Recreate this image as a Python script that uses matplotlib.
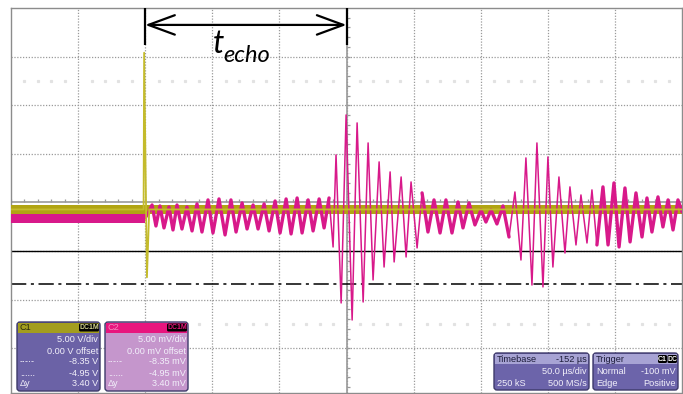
import matplotlib.pyplot as plt
import numpy as np
from matplotlib.patches import FancyBboxPatch, Rectangle

# Screen settings: 50 us/div, 10 divisions; both channels 5 units/div (V and mV)
t_min, t_max = -100, 400
y_min, y_max = -19.6, 20.0

# C1 (V): baseline band plus the transmit spike at the trigger
ch1_level = -0.72
ch1_band = 0.42
ch1_t = [-100, -1.2, -0.8, 1.3, 3.0, 400]
ch1_v = [-0.72, -0.72, 15.4, -7.7, -0.72, -0.72]

# C2 (mV): noise band before the trigger
ch2_pre_t = [-100, 0]
ch2_pre_hi = [-1.15, -1.15]
ch2_pre_lo = [-2.11, -2.11]

ch2_t = [0.0, 2.8, 5.1, 8.0, 11.0, 14.0, 17.7, 20.7, 23.7, 27.4,
         31.1, 34.9, 38.6, 42.3, 46.8, 50.5, 55.0, 59.5, 63.9, 67.7,
         72.2, 75.9, 80.4, 84.1, 88.6, 92.3, 96.8, 100.5, 105.0, 108.7,
         113.2, 116.9, 121.4, 125.1, 129.6, 133.3, 137.0, 140.0, 142.2, 146.0,
         149.7, 154.2, 157.9, 162.4, 166.1, 169.8, 174.3, 178.0, 182.5, 185.5,
         190.7, 194.4, 198.1, 202.6, 206.3, 210.7, 215.2, 219.7, 224.1, 228.6,
         233.1, 236.8, 241.3, 245.7, 250.2, 253.9, 257.7, 262.1, 266.6, 271.1,
         275.5, 280.0, 283.7, 288.2, 291.9, 296.4, 300.1, 303.8, 308.3, 312.8,
         316.5, 321.0, 324.7, 329.2, 332.9, 336.6, 341.1, 344.9, 349.3, 353.1,
         357.5, 361.3, 365.7, 370.2, 373.9, 377.6, 382.1, 385.8, 389.6, 393.3,
         397.0, 400.0]
ch2_mv = [-1.59, -0.98, -0.26, -2.42, -0.36, -2.62, -0.46, -2.83, -0.26, -2.73,
          -0.46, -2.93, -0.15, -3.04, 0.26, -3.14, 0.36, -3.34, 0.26, -3.04,
          -0.05, -2.73, -0.26, -2.73, -0.15, -2.93, 0.15, -3.14, 0.36, -3.24,
          0.46, -3.14, 0.26, -2.93, 0.36, -2.62, 0.46, -4.58, 4.89, -10.34,
          9.00, -12.09, 8.18, -10.24, 6.12, -7.97, 4.17, -6.64, 3.14, -6.12,
          2.62, -5.61, 2.11, -4.68, 0.98, -3.04, 0.26, -3.14, 0.26, -3.14,
          0.05, -2.62, -0.05, -2.31, -0.77, -2.01, -0.77, -2.21, -0.36, -3.55,
          1.08, -5.92, 4.58, -8.49, 6.12, -8.69, 4.68, -6.64, 2.62, -5.20,
          1.60, -4.37, 0.77, -4.17, 1.29, -4.37, 1.60, -4.37, 2.01, -4.58,
          1.49, -4.06, 0.98, -3.55, 0.46, -3.04, 0.57, -2.52, 0.26, -2.83,
          0.26, -0.98]

# cursors (from the channel panels)
cursor_dashdot = -8.35
cursor_dotted = -4.95
echo_start, echo_end = 0, 150

c1_rows = ["5.00 V/div", "0.00 V offset", "-8.35 V", "-4.95 V", "3.40 V"]
c2_rows = ["5.00 mV/div", "0.00 mV offset", "-8.35 mV", "-4.95 mV", "3.40 mV"]
row_keys = ["", "", "-·-·-", "......", "Δy"]

YELLOW = "#b1a413"
MAGENTA = "#d8198a"

fig = plt.figure(figsize=(6.83, 3.94), dpi=100)
ax = fig.add_axes([11 / 683, 1 - 393 / 394, 671 / 683, 385 / 394])
ax.set_xlim(t_min, t_max)
ax.set_ylim(y_min, y_max)

# graticule
ax.set_xticks(np.arange(-50, 400, 50))
ax.set_yticks([-15, -10, -5, 5, 10, 15])
ax.tick_params(length=0, labelbottom=False, labelleft=False)
ax.grid(True, color="#9a9a9a", linestyle=(0, (1, 1.3)), linewidth=0.9)
for s in ax.spines.values():
    s.set_color("#8c8c8c")
    s.set_linewidth(1.0)

ax.axhline(0, color="#9a9a9a", lw=1.2, zorder=1)
ax.axvline(150, color="#9a9a9a", lw=1.2, zorder=1)
ax.vlines(np.arange(-100, 401, 10), 0, 0.35, color="#9a9a9a", lw=0.9, zorder=1)
ax.hlines(np.arange(-19, 20, 1), 150, 152.3, color="#9a9a9a", lw=0.9, zorder=1)

# faint marker rows at +/-2.5 div
mk = [x for x in np.arange(-100, 400, 10) if x % 50 != 0]
for yy in (12.5, -12.5):
    ax.plot(mk, [yy] * len(mk), ls="none", marker="s", ms=1.3,
            color="#e2e2e2", zorder=1)

# cursors
ax.axhline(cursor_dotted, color="black", lw=1.0, zorder=2)
ax.axhline(cursor_dashdot, color="black", lw=1.1,
           linestyle=(0, (10, 3, 2, 3)), zorder=2)

# C1 trace
ax.fill_between([t_min, t_max], ch1_level - ch1_band, ch1_level + ch1_band,
                color=YELLOW, lw=0, zorder=3)

# C2 trace
ax.fill_between(ch2_pre_t, ch2_pre_lo, ch2_pre_hi, color=MAGENTA, lw=0, zorder=4)
t2 = np.array(ch2_t)
v2 = np.array(ch2_mv)
ax.plot(t2, v2, color=MAGENTA, lw=1.1, zorder=4, solid_joinstyle="round")
quiet = (t2 <= 137.5) | ((t2 >= 206) & (t2 <= 272)) | (t2 >= 336)
ax.plot(t2, np.where(quiet, v2, np.nan), color=MAGENTA, lw=2.4, zorder=4,
        solid_joinstyle="round", solid_capstyle="round")

ax.plot(ch1_t, ch1_v, color="#c4bb2c", lw=1.3, zorder=5)

# t_echo marker
ax.vlines([echo_start, echo_end], 16.2, y_max, color="black", lw=1.6, zorder=6)
ax.annotate("", xy=(echo_start, 18.26), xytext=(echo_end, 18.26),
            arrowprops=dict(arrowstyle="<->,head_length=1.9,head_width=0.7",
                            lw=1.6, color="black", shrinkA=0, shrinkB=0,
                            mutation_scale=10), zorder=6)
ax.text(50.7, 15.4, "t", fontsize=23, style="italic", family="Lato",
        va="baseline", zorder=6)
ax.text(58.1, 14.45, "echo", fontsize=17, style="italic", family="Lato",
        va="baseline", zorder=6)

# info panels drawn in screen pixels
ov = fig.add_axes([0, 0, 1, 1], zorder=10)
ov.set_xlim(0, 683)
ov.set_ylim(394, 0)
ov.axis("off")

fs = 6.6
txt = dict(fontsize=fs, family="Liberation Sans", va="center")


def panel(x0, y0, w, h, body, edge):
    ov.add_patch(FancyBboxPatch((x0, y0), w, h,
                                boxstyle="round,pad=0,rounding_size=3",
                                fc=body, ec=edge, lw=1.0))


def badge(x0, y0, w, label, color):
    ov.add_patch(FancyBboxPatch((x0, y0), w, 8,
                                boxstyle="round,pad=0,rounding_size=1.5",
                                fc="black", ec="none"))
    ov.text(x0 + w / 2, y0 + 4.3, label, color=color, ha="center",
            fontsize=5, family="Liberation Sans", va="center", weight="bold")


def channel_panel(x0, name, head, body, name_col, badge_col, rows):
    w = 83
    panel(x0, 322, w, 69, body, "#3e3a6a")
    ov.add_patch(Rectangle((x0 + 1, 323), w - 2, 9.5, fc=head, ec="none"))
    ov.text(x0 + 3, 327.5, name, color=name_col, **txt)
    badge(x0 + w - 21, 323.5, 20, "DC1M", badge_col)
    ys = [340, 351.5, 362, 373, 383.5]
    for yy, key, val in zip(ys, row_keys, rows):
        ov.text(x0 + w - 2, yy, val, color="#f2f0fa", ha="right", **txt)
        if key:
            ov.text(x0 + 3, yy, key, color="#f2f0fa", ha="left", **txt)


channel_panel(17, "C1", "#a39d1e", "#6b62a6", "#2a2a10", "#d8d890", c1_rows)
channel_panel(105, "C2", "#e8157e", "#c596cc", "#f48cc0", "#e8157e", c2_rows)

# timebase / trigger panels
for x0, w in ((494, 95), (593, 85)):
    panel(x0, 353, w, 37, "#6c64aa", "#3e3a6a")
    ov.add_patch(Rectangle((x0 + 1, 354), w - 2, 10, fc="#a7a3d4", ec="none"))

ov.text(497, 359, "Timebase", color="#1c1c3a", ha="left", **txt)
ov.text(587, 359, "-152 µs", color="#1c1c3a", ha="right", **txt)
ov.text(587, 372, "50.0 µs/div", color="#f2f0fa", ha="right", **txt)
ov.text(497, 383.5, "250 kS", color="#f2f0fa", ha="left", **txt)
ov.text(587, 383.5, "500 MS/s", color="#f2f0fa", ha="right", **txt)

ov.text(596, 359, "Trigger", color="#1c1c3a", ha="left", **txt)
badge(658, 355, 9, "C1", "white")
badge(667.5, 355, 9.5, "DC", "white")
ov.text(596, 372, "Normal", color="#f2f0fa", ha="left", **txt)
ov.text(676, 372, "-100 mV", color="#f2f0fa", ha="right", **txt)
ov.text(596, 383.5, "Edge", color="#f2f0fa", ha="left", **txt)
ov.text(676, 383.5, "Positive", color="#f2f0fa", ha="right", **txt)

fig.savefig("out.png", dpi=100)
